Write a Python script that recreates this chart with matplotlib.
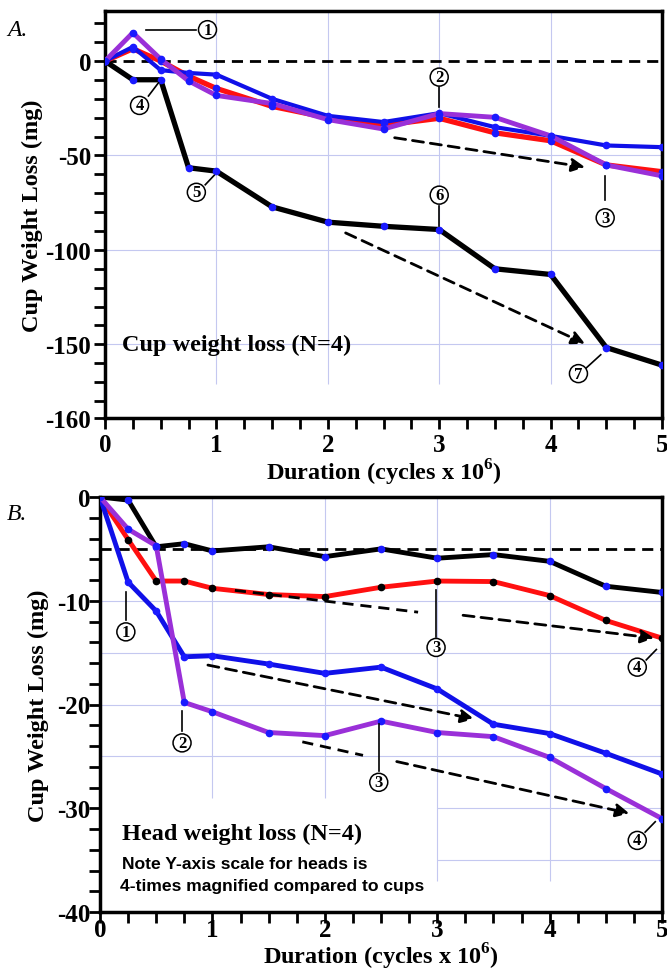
import matplotlib
matplotlib.use('Agg')
import matplotlib.pyplot as plt
from matplotlib.ticker import MultipleLocator

plt.rcParams['font.family'] = ['Liberation Serif', 'DejaVu Serif']
plt.rcParams['font.weight'] = 'bold'
plt.rcParams['axes.labelweight'] = 'bold'
plt.rcParams['mathtext.fontset'] = 'custom'
plt.rcParams['mathtext.rm'] = 'Liberation Serif:bold'
plt.rcParams['mathtext.bf'] = 'Liberation Serif:bold'

# duration, cycles x 10^6
cycles = [0, 0.25, 0.5, 0.75, 1, 1.5, 2, 2.5, 3, 3.5, 4, 4.5, 5]
x_ticks = [0, 1, 2, 3, 4, 5]

# A. cup weight loss (mg)
cup_red = [0, 6.5, 0, -8, -14.5, -24, -30, -34, -30.3, -38, -42.2, -55, -58.6]
cup_blue = [0, 7.5, -4.8, -6.3, -7.2, -20, -29, -32.3, -27.6, -35, -39.6, -44.7, -45.6]
cup_purple = [0, 15, 1, -10.5, -18.2, -22.5, -31, -36, -27.8, -29.8, -39.6, -55, -60.8]
cup_black = [0, -9.9, -9.9, -56.5, -58.3, -77.2, -85.3, -87.5, -89.2, -110, -113, -151.7, -161]

# B. head weight loss (mg)
head_black = [0, -0.3, -4.8, -4.5, -5.2, -4.8, -5.75, -5.0, -5.9, -5.55, -6.2, -8.6, -9.2]
head_red = [0, -4.1, -8.1, -8.1, -8.8, -9.4, -9.6, -8.7, -8.1, -8.15, -9.5, -11.9, -13.6]
head_blue = [0, -8.2, -11, -15.4, -15.3, -16.1, -17, -16.4, -18.5, -21.9, -22.8, -24.7, -26.7]
head_purple = [0, -3.1, -4.7, -19.8, -20.7, -22.7, -23.0, -21.6, -22.7, -23.1, -25.1, -28.1, -31.0]

# y ticks (bottom tick of panel A is labelled -160 in the original)
a_yticks = [-189, -150, -100, -50, 0]
a_ylabels = ['-160', '-150', '-100', '-50', '0']
b_yticks = [-40, -30, -20, -10, 0]
b_ylabels = ['-40', '-30', '-20', '-10', '0']

# circled labels: (text, circle x, y, leader from, leader to)
a_marks = [('1', 0.92, 16.6, (0.37, 16.6), (0.82, 16.6)),
           ('2', 3.0, -8.5, (3.0, -13.5), (3.0, -24.5)),
           ('3', 4.49, -83, (4.49, -61), (4.49, -73.5)),
           ('4', 0.31, -23.5, (0.39, -18.5), (0.48, -11.5)),
           ('5', 0.82, -69.5, (0.9, -65.5), (0.98, -60.5)),
           ('6', 3.0, -71, (3.0, -77), (3.0, -87.5)),
           ('7', 4.25, -165.5, (4.32, -162.5), (4.45, -155.5))]
b_marks = [('1', 0.23, -13.0, (0.23, -9.2), (0.23, -11.9)),
           ('2', 0.73, -23.7, (0.73, -20.6), (0.73, -22.6)),
           ('3', 2.99, -14.5, (2.99, -9.0), (2.99, -13.5)),
           ('4', 4.78, -16.4, (4.86, -15.7), (4.95, -14.7)),
           ('3', 2.48, -27.5, (2.48, -21.9), (2.48, -26.4)),
           ('4', 4.78, -33.1, (4.85, -32.3), (4.94, -31.3))]

# dashed trend lines: (start, end, arrow head?)
a_trends = [((2.6, -40.6), (4.31, -56.2), True),
            ((2.16, -91), (4.31, -149.7), True)]
b_trends = [((1.2, -9.0), (2.83, -11.1), False),
            ((3.23, -11.4), (4.93, -13.6), True),
            ((0.96, -16.2), (3.33, -21.4), True),
            ((1.8, -23.6), (2.34, -24.9), False),
            ((2.64, -25.5), (4.71, -30.5), True)]

RED = '#ff1010'
BLUE = '#1010e8'
PURPLE = '#9a30d8'
DOT = '#1a1aff'
GRID = '#c4c8f0'

fig = plt.figure(figsize=(6.67, 9.7), dpi=100)
axA = fig.add_axes([105/667, 1-419/970, 557/667, 407/970])
axB = fig.add_axes([100/667, 1-913/970, 562/667, 415/970])


def style(ax, yt, yl):
    for s in ax.spines.values():
        s.set_linewidth(2.5)
    ax.set_xticks(x_ticks, [str(v) for v in x_ticks], fontweight='bold')
    ax.set_yticks(yt, yl, fontweight='bold')
    ax.xaxis.set_minor_locator(MultipleLocator(0.25))
    ax.tick_params(which='both', direction='out', width=2, length=8, labelsize=18)
    ax.set_xlim(0, 5)


def marks(ax, lst):
    for t, x, y, p0, p1 in lst:
        ax.plot([p0[0], p1[0]], [p0[1], p1[1]], color='k', lw=1.2, zorder=6)
        ax.text(x, y, t, fontsize=12, ha='center', va='center', weight='bold', zorder=7,
                bbox=dict(boxstyle='circle,pad=0.06', fc='white', ec='k', lw=1.1))


def trends(ax, lst):
    for p0, p1, head in lst:
        if head:
            ax.annotate('', xy=p1, xytext=p0, zorder=6,
                        arrowprops=dict(arrowstyle='-|>', color='k', lw=2, linestyle=(0, (4, 2.5)),
                                        mutation_scale=20, shrinkA=0, shrinkB=0))
        else:
            ax.plot([p0[0], p1[0]], [p0[1], p1[1]], color='k', lw=2, ls=(0, (4, 2.5)), zorder=6)


# ---- panel A ----
style(axA, a_yticks, a_ylabels)
axA.set_ylim(-189, 26.5)
axA.yaxis.set_minor_locator(MultipleLocator(10))
axA.tick_params(axis='y', which='both', pad=2)
axA.tick_params(axis='x', pad=3)
for g in [-50, -100, -150]:
    axA.axhline(g, color=GRID, lw=0.8, zorder=0)
axA.vlines([1, 2, 3, 4], -171, 26.5, color=GRID, lw=0.8, zorder=0)
axA.axhline(0, color='k', lw=2, ls=(0, (4, 2.5)), zorder=1)

axA.plot(cycles, cup_black, color='k', lw=3.8, marker='o', ms=4.5, mfc=DOT, mec=DOT, zorder=3)
axA.plot(cycles, cup_red, color=RED, lw=3.8, marker='o', ms=4.5, mfc=DOT, mec=DOT, zorder=3)
axA.plot(cycles, cup_blue, color=BLUE, lw=3, marker='o', ms=4.5, mfc=DOT, mec=DOT, zorder=4)
axA.plot(cycles, cup_purple, color=PURPLE, lw=3.5, marker='o', ms=4.5, mfc=DOT, mec=DOT, zorder=4)

trends(axA, a_trends)
marks(axA, a_marks)
axA.text(0.15, -150, 'Cup weight loss (N=4)', fontsize=17.5, va='center', weight='bold')
axA.set_ylabel('Cup Weight Loss (mg)', fontsize=17.5, labelpad=2)
axA.set_xlabel(r'Duration (cycles x 10$^{\mathbf{6}}$)', fontsize=17.5, labelpad=0)
fig.text(7/667, 1-30/970, 'A.', fontsize=17, style='italic', weight='normal', va='center')

# ---- panel B ----
style(axB, b_yticks, b_ylabels)
axB.set_ylim(-40, 0)
axB.yaxis.set_minor_locator(MultipleLocator(2))
axB.tick_params(axis='y', which='both', pad=-1)
axB.tick_params(axis='x', pad=-4)
for g in [-10, -15, -20, -25]:
    axB.axhline(g, color=GRID, lw=0.8, zorder=0)
axB.hlines([-30, -35], 3, 5, color=GRID, lw=0.8, zorder=0)
axB.vlines([1, 2], -29, 0, color=GRID, lw=0.8, zorder=0)
axB.vlines([3, 4], -37, 0, color=GRID, lw=0.8, zorder=0)
axB.axhline(-5, color='k', lw=2, ls=(0, (4, 2.5)), zorder=1)

axB.plot(cycles, head_black, color='k', lw=3.5, marker='o', ms=4.5, mfc=DOT, mec=DOT, zorder=3)
axB.plot(cycles, head_red, color=RED, lw=3.5, marker='o', ms=4.5, mfc='k', mec='k', zorder=3)
axB.plot(cycles, head_blue, color=BLUE, lw=3.5, marker='o', ms=4.5, mfc=DOT, mec=DOT, zorder=4)
axB.plot(cycles, head_purple, color=PURPLE, lw=3.5, marker='o', ms=4.5, mfc=DOT, mec=DOT, zorder=5)

trends(axB, b_trends)
marks(axB, b_marks)
axB.text(0.2, -32.4, 'Head weight loss (N=4)', fontsize=17.5, va='center', weight='bold')
axB.text(0.2, -35.3, 'Note Y-axis scale for heads is', fontsize=12.6, va='center',
         family='Liberation Sans', weight='bold')
axB.text(0.18, -37.4, '4-times magnified compared to cups', fontsize=12.6, va='center',
         family='Liberation Sans', weight='bold')
axB.set_ylabel('Cup Weight Loss (mg)', fontsize=17.5, labelpad=6)
axB.set_xlabel(r'Duration (cycles x 10$^{\mathbf{6}}$)', fontsize=17.5, labelpad=0)
fig.text(7/667, 1-515/970, 'B.', fontsize=17, style='italic', weight='normal', va='center')

fig.savefig('out.png', dpi=100)
